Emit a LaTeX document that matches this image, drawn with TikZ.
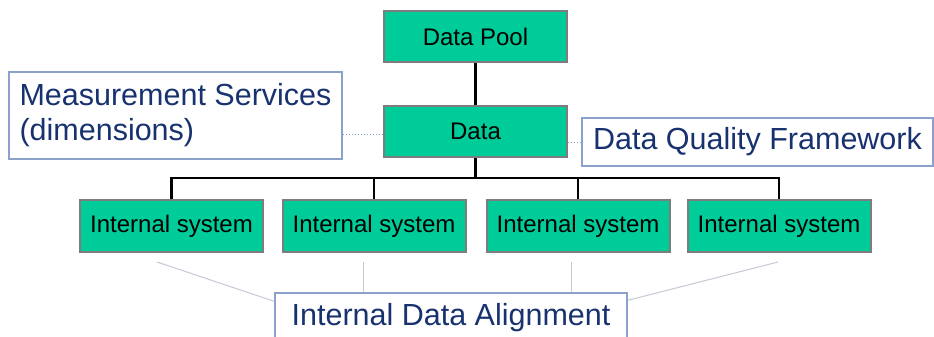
\documentclass[tikz,border=0pt]{standalone}
\usepackage{fontspec}
\setmainfont{Liberation Sans}
\usetikzlibrary{calc}

\definecolor{boxgreen}{RGB}{0,204,153}
\definecolor{boxedge}{RGB}{125,125,125}
\definecolor{notetext}{RGB}{24,50,112}
\definecolor{noteedge}{RGB}{140,160,204}
\definecolor{noteline}{RGB}{198,200,214}

\begin{document}
\begin{tikzpicture}[x=1pt, y=-1pt,
  sysbox/.style={draw=boxedge, line width=2pt, fill=boxgreen, minimum width=183pt,
    minimum height=51pt, inner sep=0pt, font=\fontsize{24}{27}\selectfont},
  note/.style={draw=noteedge, line width=1.3pt, fill=white, text=notetext, align=left,
    inner sep=0pt, font=\fontsize{30.5}{35}\selectfont},
  link/.style={line width=2.5pt},
  guide/.style={noteline, line width=1pt}]
\useasboundingbox (0,0) rectangle (934,337);

% guide lines down to the alignment note
\coordinate (g1) at (157,262);
\coordinate (g2) at (363,262);
\coordinate (g3) at (571,262);
\coordinate (g4) at (778,262);

% the tree
\node[sysbox] (pool) at (475.5,36.5) {Data Pool};
\node[sysbox] (data) at (475.5,131.5) {Data};
\foreach \x [count=\i] in {171.5,374,578,779}
  \node[sysbox, minimum height=52pt] (sys\i) at (\x,226) {Internal system};

\coordinate (bus) at (475.5,178);
\draw[link] (pool) -- (data);
\draw[link] (data) -- (bus);
\draw[link] (sys1.north) |- (bus) -| (sys4.north);
\foreach \i in {2,3} \draw[link] (sys\i.north) -- (sys\i.north |- bus);

% notes
\node[note, minimum width=333pt, minimum height=87pt] (meas) at (175.5,115.5) {Measurement Services\\(dimensions)};
\node[note, minimum width=351pt, minimum height=48pt] (dqf) at (757.5,142) {Data Quality Framework};
\node[note, minimum width=352pt, minimum height=49pt] (ida) at (451,317.5) {Internal Data Alignment};

\draw[dotted, noteedge, line width=1pt] ($(data.west)+(0,3)$) -- ($(data.west -| meas.east)+(0,3)$);
\draw[dotted, noteedge, line width=1pt] (dqf.west) -- (dqf.west -| data.east);

\draw[guide] (g1) -- ($(ida.north west)+(0,9)$);
\draw[guide] (g2) -- (g2 |- ida.north);
\draw[guide] (g3) -- (g3 |- ida.north);
\draw[guide] (g4) -- ($(ida.north east)+(0,8)$);
\end{tikzpicture}
\end{document}
